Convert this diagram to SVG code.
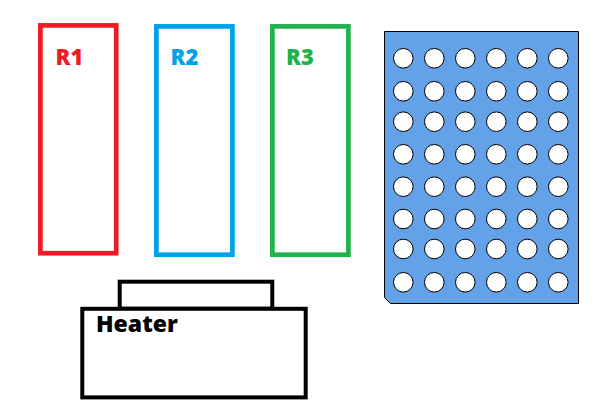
<svg xmlns="http://www.w3.org/2000/svg" width="600" height="400" viewBox="0 0 600 400">
<style>
.frame{fill:none;stroke-width:4.7}
.lbl{font-family:"Open Sans","Liberation Sans",sans-serif;font-weight:800;font-size:22px}
.well{fill:#fff;stroke:#000;stroke-width:1}
.box{fill:#fff;stroke:#000;stroke-width:4}
</style>
<rect width="600" height="400" fill="#fff"/>
<g id="R1">
<rect class="frame" x="40.4" y="25.4" width="75.8" height="227.8" stroke="#ED1C24"/>
<text class="lbl" x="55.5" y="65" fill="#ED1C24">R1</text>
</g>
<g id="R2">
<rect class="frame" x="156.4" y="26.4" width="76" height="228.3" stroke="#00A2E8"/>
<text class="lbl" x="170.5" y="65" fill="#00A2E8">R2</text>
</g>
<g id="R3">
<rect class="frame" x="272.4" y="26.4" width="76" height="228.3" stroke="#22B14C"/>
<text class="lbl" x="286" y="65" fill="#22B14C">R3</text>
</g>
<g id="plate">
<polygon points="384.5,31.5 578.5,31.5 578.5,303.5 390.5,303.5 384.5,297.5" fill="#63A1E8" stroke="#000" stroke-width="1"/>
<g id="wells">
<g transform="translate(0,58.3)"><circle class="well" cx="403.3" cy="0" r="9.8"/><circle class="well" cx="434.3" cy="0" r="9.8"/><circle class="well" cx="465.3" cy="0" r="9.8"/><circle class="well" cx="496.3" cy="0" r="9.8"/><circle class="well" cx="527.3" cy="0" r="9.8"/><circle class="well" cx="558.3" cy="0" r="9.8"/></g>
<g transform="translate(0,91.3)"><circle class="well" cx="403.3" cy="0" r="9.8"/><circle class="well" cx="434.3" cy="0" r="9.8"/><circle class="well" cx="465.3" cy="0" r="9.8"/><circle class="well" cx="496.3" cy="0" r="9.8"/><circle class="well" cx="527.3" cy="0" r="9.8"/><circle class="well" cx="558.3" cy="0" r="9.8"/></g>
<g transform="translate(0,121.7)"><circle class="well" cx="403.3" cy="0" r="9.8"/><circle class="well" cx="434.3" cy="0" r="9.8"/><circle class="well" cx="465.3" cy="0" r="9.8"/><circle class="well" cx="496.3" cy="0" r="9.8"/><circle class="well" cx="527.3" cy="0" r="9.8"/><circle class="well" cx="558.3" cy="0" r="9.8"/></g>
<g transform="translate(0,154.3)"><circle class="well" cx="403.3" cy="0" r="9.8"/><circle class="well" cx="434.3" cy="0" r="9.8"/><circle class="well" cx="465.3" cy="0" r="9.8"/><circle class="well" cx="496.3" cy="0" r="9.8"/><circle class="well" cx="527.3" cy="0" r="9.8"/><circle class="well" cx="558.3" cy="0" r="9.8"/></g>
<g transform="translate(0,186.7)"><circle class="well" cx="403.3" cy="0" r="9.8"/><circle class="well" cx="434.3" cy="0" r="9.8"/><circle class="well" cx="465.3" cy="0" r="9.8"/><circle class="well" cx="496.3" cy="0" r="9.8"/><circle class="well" cx="527.3" cy="0" r="9.8"/><circle class="well" cx="558.3" cy="0" r="9.8"/></g>
<g transform="translate(0,219)"><circle class="well" cx="403.3" cy="0" r="9.8"/><circle class="well" cx="434.3" cy="0" r="9.8"/><circle class="well" cx="465.3" cy="0" r="9.8"/><circle class="well" cx="496.3" cy="0" r="9.8"/><circle class="well" cx="527.3" cy="0" r="9.8"/><circle class="well" cx="558.3" cy="0" r="9.8"/></g>
<g transform="translate(0,249)"><circle class="well" cx="403.3" cy="0" r="9.8"/><circle class="well" cx="434.3" cy="0" r="9.8"/><circle class="well" cx="465.3" cy="0" r="9.8"/><circle class="well" cx="496.3" cy="0" r="9.8"/><circle class="well" cx="527.3" cy="0" r="9.8"/><circle class="well" cx="558.3" cy="0" r="9.8"/></g>
<g transform="translate(0,282.3)"><circle class="well" cx="403.3" cy="0" r="9.8"/><circle class="well" cx="434.3" cy="0" r="9.8"/><circle class="well" cx="465.3" cy="0" r="9.8"/><circle class="well" cx="496.3" cy="0" r="9.8"/><circle class="well" cx="527.3" cy="0" r="9.8"/><circle class="well" cx="558.3" cy="0" r="9.8"/></g>
</g>
</g>
<g id="heater">
<rect class="box" x="119.7" y="281.7" width="152.6" height="27"/>
<rect class="box" x="82.3" y="308.8" width="223.4" height="88.6"/>
<text class="lbl" x="96" y="332.3" style="font-size:23px" fill="#000">Heater</text>
</g>
</svg>
